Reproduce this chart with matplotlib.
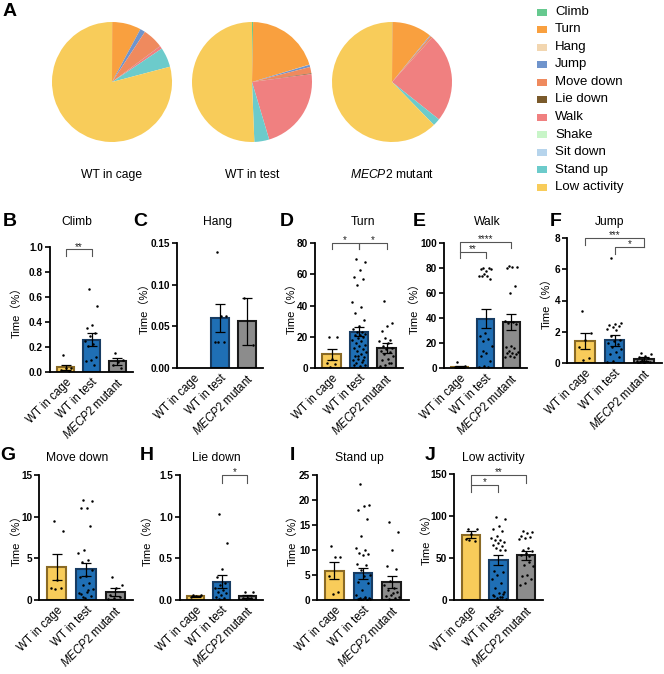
import numpy as np
import matplotlib
matplotlib.use('Agg')
import matplotlib.pyplot as plt
from matplotlib.patches import Rectangle

plt.rcParams['font.family'] = ['Liberation Sans', 'Noto Sans CJK SC', 'DejaVu Sans']
plt.rcParams['mathtext.fontset'] = 'custom'
plt.rcParams['mathtext.it'] = 'Liberation Sans:italic'
plt.rcParams['mathtext.rm'] = 'Liberation Sans'

# ---------------- data ----------------
behaviours = ['Climb', 'Turn', 'Hang', 'Jump', 'Move down', 'Lie down', 'Walk',
              'Shake', 'Sit down', 'Stand up', 'Low activity']
behaviour_colors = ['#66c98f', '#f9a03f', '#f2d6b0', '#6f94cc', '#ef8a5e', '#7a5a2b',
                    '#f08080', '#c8f5c8', '#b6d4ec', '#6ccbcb', '#f8cc5a']
groups = ['WT in cage', 'WT in test', r'$\mathit{MECP2}$ mutant']
group_colors = ['#f8cc5a', '#1f6fb5', '#8c8c8c']
group_edges = ['#8a6a25', '#173c63', '#1a1a1a']

pie_cage = [0.05, 7.8, 0.0, 1.4, 5.5, 0.05, 0.8, 0.0, 0.0, 5.3, 79.1]
pie_test = [0.3, 20.0, 0.06, 0.6, 1.7, 0.2, 22.5, 0.0, 0.0, 4.0, 50.6]
pie_mutant = [0.1, 10.8, 0.05, 0.2, 0.5, 0.05, 24.0, 0.0, 0.0, 2.0, 62.3]

climb_means = [0.04, 0.26, 0.085]
climb_sems = [0.02, 0.055, 0.027]
climb_cage = [0.14, 0.03, 0.03, 0.02, 0.01]
climb_test = [0.66, 0.53, 0.38, 0.35, 0.31, 0.285, 0.25, 0.227, 0.205, 0.12, 0.10, 0.085, 0.053]
climb_mutant = [0.15, 0.10, 0.08, 0.06, 0.03]

hang_means = [np.nan, 0.06, 0.056]
hang_sems = [np.nan, 0.017, 0.028]
hang_cage = []
hang_test = [0.139, 0.062, 0.062, 0.031, 0.031, 0.031]
hang_mutant = [0.084, 0.028]

turn_means = [8.7, 23.3, 12.8]
turn_sems = [3.7, 2.9, 3.0]
turn_cage = [19.8, 19.8, 6.0, 3.4, 2.5, 0.5]
turn_test = [70, 68, 63, 58, 57, 53, 42, 39, 35, 31, 27, 25, 23, 23, 22, 21, 21, 20, 19, 18,
             17, 16, 15, 14, 13, 12, 11, 10, 9, 8, 7, 6, 5, 4, 3, 2, 1, 2, 5, 8]
turn_mutant = [43, 29, 27, 24, 18, 19, 17, 16, 14, 13, 12, 11, 10, 9, 8, 6, 5, 3, 2, 1, 3]

walk_means = [1.0, 39.5, 36.8]
walk_sems = [0.6, 7.5, 6.2]
walk_cage = [4.8, 1.5, 1.0, 0.5, 0.3, 0.2]
walk_test = [80, 79, 78, 79, 80, 75, 74, 74, 74, 71, 28, 26, 23, 22, 18, 12, 10, 6, 2, 1, 0.5, 14]
walk_mutant = [82, 81, 81, 80, 66, 60, 38, 37, 36, 35, 18, 17, 16, 14, 13, 12, 12, 11, 10, 9, 9]

jump_means = [1.41, 1.45, 0.24]
jump_sems = [0.52, 0.35, 0.14]
jump_cage = [3.33, 1.9, 1.5, 1.05, 0.3, 0.2]
jump_test = [6.7, 2.55, 2.5, 2.45, 2.35, 2.3, 2.2, 2.1, 1.7, 1.5, 1.4, 1.3, 1.2, 1.0, 0.9,
             0.7, 0.6, 0.4, 0.1, 0.05]
jump_mutant = [0.66, 0.6, 0.45, 0.4, 0.3, 0.2, 0.15, 0.1, 0.05, 0.05, 0.0, 0.0]

movedown_means = [4.0, 3.7, 0.96]
movedown_sems = [1.56, 0.8, 0.48]
movedown_cage = [9.5, 8.3, 2.4, 1.5, 1.4, 1.3]
movedown_test = [12, 11.9, 11.1, 11.0, 8.9, 6.0, 5.6, 4.8, 4.6, 3.6, 2.9, 2.8, 2.1, 1.8, 1.3,
                 1.0, 0.7, 0.5, 0.3, 0.8, 1.2, 0.4]
movedown_mutant = [2.8, 1.8, 1.4, 0.6, 0.4, 0.2, 0.1]

liedown_means = [0.044, 0.22, 0.044]
liedown_sems = [0.01, 0.08, 0.02]
liedown_cage = [0.065, 0.06, 0.045, 0.04]
liedown_test = [1.03, 0.69, 0.37, 0.28, 0.2, 0.18, 0.14, 0.12, 0.1, 0.08, 0.06, 0.04, 0.02, 0.01]
liedown_mutant = [0.096, 0.096, 0.03, 0.02, 0.02, 0.01]

standup_means = [5.9, 5.4, 3.7]
standup_sems = [1.7, 1.1, 1.2]
standup_cage = [10.9, 8.7, 8.6, 4.9, 1.6, 1.2]
standup_test = [23.3, 19.1, 18.9, 18.0, 16.3, 12.9, 10.4, 10.0, 9.4, 9.2, 9.0, 7.2, 7.0, 6.1,
                5.1, 4.9, 3.7, 3.4, 2.1, 1.1, 0.7, 0.5, 0.4, 0.3, 0.2, 0.1, 0.1, 0.2, 0.5, 0.3]
standup_mutant = [15.6, 13.7, 10.1, 6.9, 6.3, 3.8, 3.1, 2.5, 2.0, 1.6, 1.1, 0.8, 0.5, 0.3, 0.6, 1.4]

low_means = [77.8, 47.6, 53.2]
low_sems = [3.9, 6.4, 5.5]
low_cage = [85, 84, 79, 73, 70, 71]
low_test = [99, 97, 88, 84, 82, 76, 74, 72, 71, 69, 68, 66, 64, 62, 60, 59, 35, 33, 30, 25,
            20, 14, 10, 8, 6, 4, 2, 1, 3, 5, 7]
low_mutant = [82, 81, 80, 76, 75, 74, 73, 62, 60, 58, 56, 54, 52, 42, 40, 30, 28, 25, 20, 18, 45]

# ---------------- figure ----------------
W, H = 664, 674
fig = plt.figure(figsize=(W / 100, H / 100), dpi=100)


def ax_at(l, r, t, b):
    return fig.add_axes([l / W, 1 - b / H, (r - l) / W, (b - t) / H])


def ftext(x, y, s, **kw):
    return fig.text(x / W, 1 - y / H, s, **kw)


# Panel A: pies
ftext(3, 11, 'A', fontsize=14, fontweight='bold', ha='left', va='center')
pie_data = [pie_cage, pie_test, pie_mutant]
for cx, vals, lab in zip([112, 252, 392], pie_data, groups):
    ax = ax_at(cx - 60, cx + 60, 22, 142)
    ax.pie(vals, colors=behaviour_colors, startangle=90, counterclock=False,
           wedgeprops=dict(linewidth=0))
    ax.set_xlim(-1.0, 1.0)
    ax.set_ylim(-1.0, 1.0)
    ax.set_aspect('equal')
    ax.axis('off')
    ftext(cx, 175, lab, fontsize=8.7, ha='center', va='center')

# legend
for i, (b, c) in enumerate(zip(behaviours, behaviour_colors)):
    yc = 12 + i * 17.5
    fig.patches.append(Rectangle((537 / W, 1 - (yc + 3.5) / H), 10 / W, 7 / H,
                                 transform=fig.transFigure, facecolor=c, edgecolor='none'))
    ftext(555, yc, b, fontsize=9.5, ha='left', va='center')


def bracket(ax, x0, x1, y, yl0, yl1, text):
    ax.plot([x0, x0, x1, x1], [yl0, y, y, yl1], color='#555555', lw=0.8,
            clip_on=False, zorder=5)
    ax.annotate(text, xy=((x0 + x1) / 2, y), xytext=(0, -1.5), textcoords='offset points',
                ha='center', va='bottom', fontsize=7, color='#222222',
                annotation_clip=False)


panels = [
    dict(letter='B', lpos=(3, 222), title='Climb', tpos=(77, 222), rect=(50, 133, 247, 372),
         ylx=16, ylim=1.0, yticks=[0, 0.2, 0.4, 0.6, 0.8, 1.0], fmt='{:.1f}',
         means=climb_means, sems=climb_sems, pts=[climb_cage, climb_test, climb_mutant],
         brackets=[(0, 1, 0.98, 0.93, 0.93, '**')]),
    dict(letter='C', lpos=(133, 222), title='Hang', tpos=(218, 222), rect=(177, 263, 243, 368),
         ylx=144, ylim=0.15, yticks=[0, 0.05, 0.10, 0.15], fmt='{:.2f}',
         means=hang_means, sems=hang_sems, pts=[hang_cage, hang_test, hang_mutant],
         brackets=[]),
    dict(letter='D', lpos=(280, 222), title='Turn', tpos=(363, 222), rect=(315, 403, 243, 368),
         ylx=291, ylim=80, yticks=[0, 20, 40, 60, 80], fmt='{:.0f}',
         means=turn_means, sems=turn_sems, pts=[turn_cage, turn_test, turn_mutant],
         brackets=[(0, 1, 80, 76, 76, '*'), (1, 2, 80, 76, 76, '*')]),
    dict(letter='E', lpos=(413, 222), title='Walk', tpos=(487, 222), rect=(444, 527, 243, 368),
         ylx=414, ylim=100, yticks=[0, 20, 40, 60, 80, 100], fmt='{:.0f}',
         means=walk_means, sems=walk_sems, pts=[walk_cage, walk_test, walk_mutant],
         brackets=[(0, 1, 92.8, 88, 88, '**'), (0, 2, 101, 92.8, 96, '****')]),
    dict(letter='F', lpos=(550, 221), title='Jump', tpos=(610, 222), rect=(567, 662, 238, 363),
         ylx=546, ylim=8, yticks=[0, 2, 4, 6, 8], fmt='{:.0f}',
         means=jump_means, sems=jump_sems, pts=[jump_cage, jump_test, jump_mutant],
         brackets=[(0, 2, 8.02, 7.55, 7.44, '***'), (1, 2, 7.44, 6.97, 7.44, '*')]),
    dict(letter='G', lpos=(0, 455), title='Move down', tpos=(77, 458), rect=(39, 133, 475, 600),
         ylx=16, ylim=15, yticks=[0, 5, 10, 15], fmt='{:.0f}',
         means=movedown_means, sems=movedown_sems,
         pts=[movedown_cage, movedown_test, movedown_mutant], brackets=[]),
    dict(letter='H', lpos=(140, 455), title='Lie down', tpos=(216, 458), rect=(180, 263, 475, 600),
         ylx=147, ylim=1.5, yticks=[0, 0.5, 1.0, 1.5], fmt='{:.1f}',
         means=liedown_means, sems=liedown_sems,
         pts=[liedown_cage, liedown_test, liedown_mutant],
         brackets=[(1, 2, 1.496, 1.41, 1.41, '*')]),
    dict(letter='I', lpos=(290, 455), title='Stand up', tpos=(359, 458), rect=(317, 409, 475, 600),
         ylx=292, ylim=25, yticks=[0, 5, 10, 15, 20, 25], fmt='{:.0f}',
         means=standup_means, sems=standup_sems,
         pts=[standup_cage, standup_test, standup_mutant], brackets=[]),
    dict(letter='J', lpos=(425, 455), title='Low activity', tpos=(493, 458), rect=(454, 543, 474, 600),
         ylx=426, ylim=150, yticks=[0, 50, 100, 150], fmt='{:.0f}',
         means=low_means, sems=low_sems, pts=[low_cage, low_test, low_mutant],
         brackets=[(0, 1, 137, 128.6, 128.6, '*'), (0, 2, 148.4, 137, 139, '**')]),
]

xpos = np.arange(3)
bar_w = 0.66
for p in panels:
    l, r, t, b = p['rect']
    ax = ax_at(l, r, t, b)
    for i in range(3):
        m = p['means'][i]
        if np.isnan(m):
            continue
        ax.bar(xpos[i], m, width=bar_w, color=group_colors[i], edgecolor=group_edges[i],
               linewidth=1.5, zorder=2)
        ax.errorbar(xpos[i], m, yerr=p['sems'][i], color='black', lw=0.9, capsize=3.5,
                    capthick=0.9, zorder=3)
        vals = np.asarray(p['pts'][i], dtype=float)
        n = len(vals)
        if n:
            offs = 0.52 * (((np.arange(n) * 0.618034 + 0.3) % 1.0) - 0.5)
            ax.scatter(xpos[i] + offs, vals, s=3.2, color='black', zorder=4, linewidths=0)
    ax.set_xlim(-0.6, 2.6)
    ax.set_ylim(0, p['ylim'])
    ax.set_yticks(p['yticks'])
    ax.set_yticklabels([p['fmt'].format(v) for v in p['yticks']], fontweight='bold', fontsize=7.2)
    ax.set_xticks(xpos)
    ax.set_xticklabels(groups, rotation=45, ha='right', rotation_mode='anchor', fontsize=8.3)
    for s in ['top', 'right']:
        ax.spines[s].set_visible(False)
    for s in ['left', 'bottom']:
        ax.spines[s].set_linewidth(1.3)
    ax.tick_params(axis='y', width=1.2, length=3.5, pad=1.5)
    ax.tick_params(axis='x', width=1.2, length=0, pad=3)
    for br in p['brackets']:
        bracket(ax, *br)
    ftext(p['lpos'][0], p['lpos'][1], p['letter'], fontsize=14, fontweight='bold',
          ha='left', va='center')
    ftext(p['tpos'][0], p['tpos'][1], p['title'], fontsize=8.7, ha='center', va='center')
    ftext(p['ylx'], (t + b) / 2, 'Time（%）', fontsize=8, rotation=90, ha='center', va='center')

fig.savefig('out.png', dpi=100)
